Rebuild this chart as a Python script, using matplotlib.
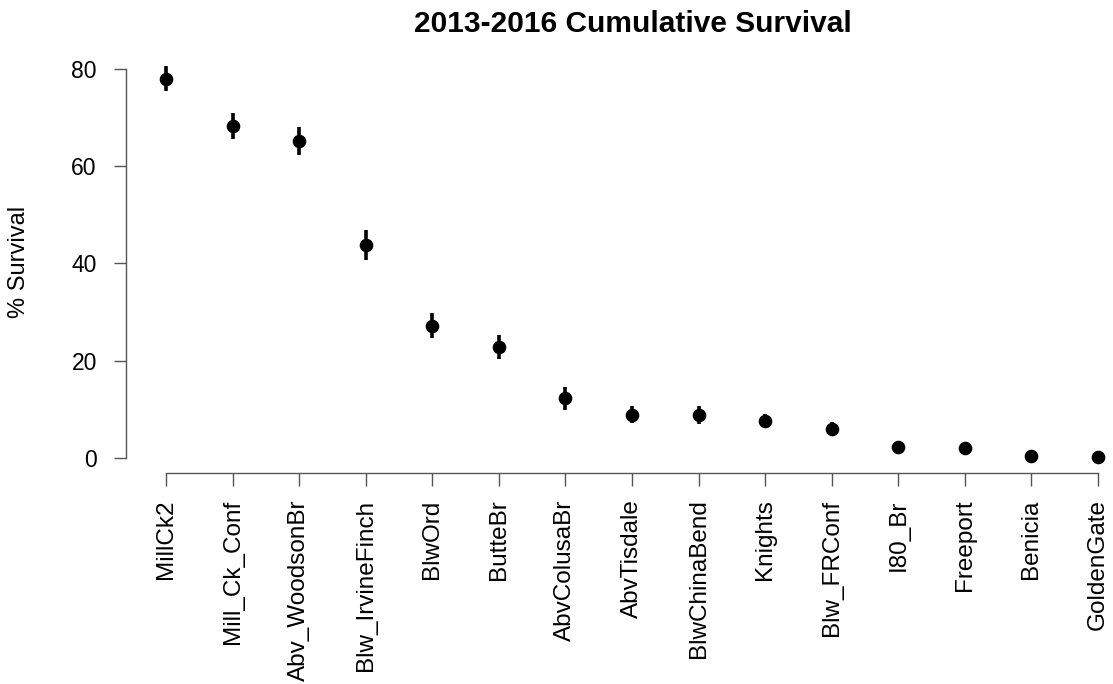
import numpy as np
import matplotlib.pyplot as plt

plt.rcParams['font.family'] = ['Liberation Sans', 'DejaVu Sans']

# receiver sites and cumulative survival (%) with standard error
sites = ['MillCk2', 'Mill_Ck_Conf', 'Abv_WoodsonBr', 'Blw_IrvineFinch', 'BlwOrd',
         'ButteBr', 'AbvColusaBr', 'AbvTisdale', 'BlwChinaBend', 'Knights',
         'Blw_FRConf', 'I80_Br', 'Freeport', 'Benicia', 'GoldenGate']
survival = [78.0, 68.2, 65.2, 43.8, 27.2, 22.8, 12.3, 8.9, 8.8, 7.6, 6.0, 2.3, 2.0, 0.4, 0.3]
se = [2.6, 2.7, 2.8, 3.0, 2.6, 2.5, 2.4, 1.8, 1.8, 1.5, 1.5, 0.6, 0.5, 0.3, 0.3]

x = np.arange(1, len(sites) + 1)

fig = plt.figure(figsize=(11.13, 6.84), dpi=100)
ax = fig.add_axes([126 / 1113, 1 - 473 / 684, (1110 - 126) / 1113, (473 - 50) / 684])

ax.errorbar(x, survival, yerr=se, fmt='o', color='black', markersize=8.8,
            elinewidth=2.6, capsize=0)

ax.set_xlim(0.399, 15.18)
ax.set_ylim(-3.08, 83.9)

for s in ['top', 'right']:
    ax.spines[s].set_visible(False)
ax.spines['left'].set_bounds(0, 80)
ax.spines['bottom'].set_bounds(1, 15)
for s in ['left', 'bottom']:
    ax.spines[s].set_color('#555555')
    ax.spines[s].set_linewidth(1.0)

ax.set_yticks([0, 20, 40, 60, 80])
ax.set_xticks(x)
ax.set_xticklabels(sites, rotation=90)
ax.tick_params(axis='both', direction='out', length=9, width=1.0, color='#555555')
ax.tick_params(axis='y', labelsize=16.5, pad=12)
ax.tick_params(axis='x', labelsize=17.5, pad=10)

# y axis title and main title placed like R's mtext / title
fig.text(19 / 1113, 1 - 262 / 684, '% Survival', rotation=90, ha='center', va='center',
         fontsize=17)
fig.text(0.569, 0.965, '2013-2016 Cumulative Survival', ha='center', va='center',
         fontsize=21.5, fontweight='bold')

fig.savefig('out.png', dpi=100)
